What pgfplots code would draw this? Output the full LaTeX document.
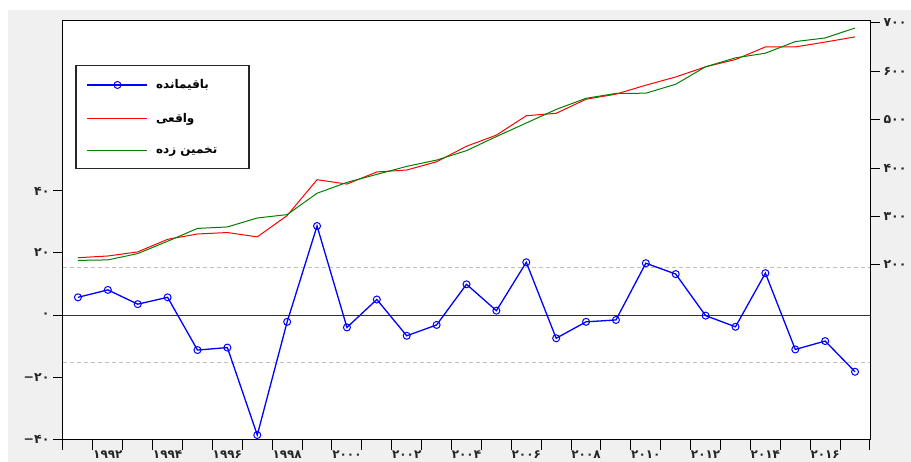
\documentclass[border=0pt]{standalone}
\usepackage{pgfplots}
\usepackage{pgfplotstable}
\pgfplotsset{compat=1.18}
\usepackage{fontspec}
\setmainfont{DejaVu Sans}
\newfontfamily\arabicfont[Script=Arabic]{DejaVu Sans}
\TeXXeTstate=1
\definecolor{panel}{RGB}{240,240,240}
\definecolor{eblue}{RGB}{0,0,255}
\definecolor{ered}{RGB}{255,0,0}
\definecolor{egreen}{RGB}{0,128,0}

\pgfplotstableread{
year resid actual fitted
1991 5.7 215 209.5
1992 8.1 218.6 210.5
1993 3.5 227 223.5
1994 5.7 253 249
1995 -11.3 264 275.5
1996 -10.5 267 278.5
1997 -38.7 258 297
1998 -2.2 302 304
1999 28.7 376 348
2000 -4.0 367 370.5
2001 5.0 392 387
2002 -6.7 396 403.5
2003 -3.2 413 416.5
2004 9.9 445 436
2005 1.4 468 465
2006 17.0 508 493
2007 -7.5 513 521
2008 -2.2 542 544
2009 -1.6 552.6 554
2010 16.7 571 554.5
2011 13.2 588 573
2012 -0.2 609 609
2013 -3.8 624 627.5
2014 13.5 650 637
2015 -11.1 650 661
2016 -8.4 660 668.5
2017 -18.3 670.7 689
}\datatable

\begin{document}
\begin{tikzpicture}
\fill[white] (-63pt,-22pt) rectangle (848pt,440pt);
\fill[panel] (-55pt,-22pt) rectangle (848pt,430pt);
\begin{axis}[
  at={(0pt,0pt)}, anchor=south west, scale only axis,
  width=807pt, height=419pt,
  xmin=1990.5, xmax=2017.5, ymin=-40.3, ymax=94.8,
  axis background/.style={fill=white},
  axis line style={line width=1pt, black},
  tick style={line width=1pt, black},
  tick align=outside, xtick pos=bottom, ytick pos=left,
  major tick length=10pt, minor tick length=10pt,
  xtick={1992,1994,...,2016},
  xticklabels={۱۹۹۲,۱۹۹۴,۱۹۹۶,۱۹۹۸,۲۰۰۰,۲۰۰۲,۲۰۰۴,۲۰۰۶,۲۰۰۸,۲۰۱۰,۲۰۱۲,۲۰۱۴,۲۰۱۶},
  major x tick style={draw=none},
  minor xtick={1990.5,1991.5,...,2017.5},
  ytick={-40,-20,0,20,40},
  yticklabels={−۴۰,−۲۰,۰,۲۰,۴۰},
  ticklabel style={font=\bfseries\fontsize{12.5}{14}\selectfont, text=black!85},
  xticklabel style={font=\bfseries\fontsize{12}{13}\selectfont, inner sep=0pt, yshift=-1pt},
  clip=false,
]
\addplot[black!80, line width=1pt, forget plot] coordinates {(1990.5,0) (2017.5,0)};
\addplot[black!25, line width=1pt, dash pattern=on 4pt off 3pt, forget plot] coordinates {(1990.5,15.4) (2017.5,15.4)};
\addplot[black!25, line width=1pt, dash pattern=on 4pt off 3pt, forget plot] coordinates {(1990.5,-15.4) (2017.5,-15.4)};
\addplot[eblue, line width=1.3pt, mark=o, mark size=3.5pt, mark options={solid, fill=white, line width=1pt}] table[x=year, y=resid] {\datatable};
\end{axis}
\begin{axis}[
  at={(0pt,0pt)}, anchor=south west, scale only axis,
  width=807pt, height=419pt,
  xmin=1990.5, xmax=2017.5, ymin=-161.1, ymax=703.5,
  hide x axis, axis y line*=right,
  y axis line style={-, line width=1pt, black},
  tick style={line width=1pt, black},
  tick align=outside, ytick pos=right,
  major tick length=10pt,
  ytick={200,300,...,700},
  yticklabels={۲۰۰,۳۰۰,۴۰۰,۵۰۰,۶۰۰,۷۰۰},
  ticklabel style={font=\bfseries\fontsize{12.5}{14}\selectfont, text=black!85},
  legend style={at={(0.015,0.895)}, anchor=north west, draw=black!85, line width=1.4pt, fill=white,
    inner xsep=11pt, inner ysep=12pt, row sep=19pt, font=\bfseries\fontsize{12}{14}\selectfont,
    /tikz/every odd column/.append style={column sep=6pt}},
  legend cell align=left,
  legend image code/.code={\draw[mark repeat=2,mark phase=2,#1] plot coordinates {(0pt,0pt) (30pt,0pt) (60pt,0pt)};},
]
\addlegendimage{eblue, line width=1.3pt, mark=o, mark size=3.5pt, mark options={solid, fill=white, line width=1pt}}
\addlegendentry{\makebox[80pt][l]{\arabicfont\beginR باقیمانده\endR}}
\addplot[ered, line width=1pt] table[x=year, y=actual] {\datatable};
\addlegendentry{\makebox[80pt][l]{\arabicfont\beginR واقعی\endR}}
\addplot[egreen, line width=1pt] table[x=year, y=fitted] {\datatable};
\addlegendentry{\makebox[80pt][l]{\arabicfont\beginR تخمین زده\endR}}
\end{axis}
\pgfresetboundingbox
\useasboundingbox (-63pt,-22pt) rectangle (848pt,440pt);
\end{tikzpicture}
\end{document}
